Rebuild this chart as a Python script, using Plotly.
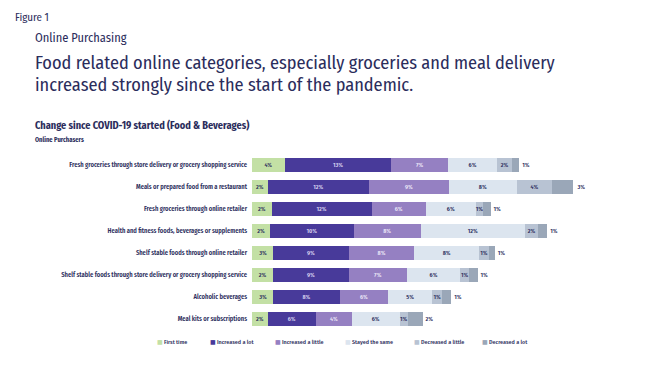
import plotly.graph_objects as go

categories = [
    "Fresh groceries through store delivery or grocery shopping service",
    "Meals or prepared food from a restaurant",
    "Fresh groceries through online retailer",
    "Health and fitness foods, beverages or supplements",
    "Shelf stable foods through online retailer",
    "Shelf stable foods through store delivery or grocery shopping service",
    "Alcoholic beverages",
    "Meal kits or subscriptions",
]
series_names = ["First time", "Increased a lot", "Increased a little",
                "Stayed the same", "Decreased a little", "Decreased a lot"]

first_time = [4.0, 1.9, 2.4, 2.2, 2.6, 2.6, 2.6, 1.9]
increased_lot = [13.0, 12.4, 12.2, 10.2, 9.2, 9.2, 8.1, 5.9]
increased_little = [6.9, 9.7, 6.6, 8.2, 8.0, 7.1, 5.9, 4.4]
stayed_same = [6.0, 8.3, 6.1, 12.7, 7.9, 6.5, 5.4, 5.8]
decreased_little = [1.8, 4.3, 0.9, 1.6, 1.2, 1.1, 1.2, 1.0]
decreased_lot = [0.9, 2.6, 0.9, 1.1, 0.7, 1.0, 1.1, 1.8]

lbl_first_time = [4, 2, 2, 2, 3, 2, 3, 2]
lbl_increased_lot = [13, 12, 12, 10, 9, 9, 8, 6]
lbl_increased_little = [7, 9, 6, 8, 8, 7, 6, 4]
lbl_stayed_same = [6, 8, 6, 12, 8, 6, 5, 6]
lbl_decreased_little = [2, 4, 1, 2, 1, 1, 1, 1]
lbl_decreased_lot = [1, 3, 1, 1, 1, 1, 1, 2]

values = [first_time, increased_lot, increased_little, stayed_same, decreased_little, decreased_lot]
labels = [lbl_first_time, lbl_increased_lot, lbl_increased_little, lbl_stayed_same,
          lbl_decreased_little, lbl_decreased_lot]
colors = ["#c3e0a5", "#483a9a", "#9580c2", "#dce5ef", "#b8c3d3", "#9aa7b8"]
text_colors = ["#2b2d5c", "#d8d4f0", "#ece8f8", "#2b2d5c", "#2b2d5c", "#2b2d5c"]

NAVY = "#2b2d5c"
FONT = "Fira Sans Condensed, Roboto, sans-serif"

# the page has an 8px body margin; work in window pixels and convert
OFF = 8
W, H = 650 - OFF, 366 - OFF
PLOT_L, PLOT_R, PLOT_T, PLOT_B = 252, 621, 154, 330   # window pixels
L, R, T, B = PLOT_L - OFF, W - (PLOT_R - OFF), PLOT_T - OFF, H - (PLOT_B - OFF)

def px(x):
    return (x - PLOT_L) / (PLOT_R - PLOT_L)

def py(y):
    return (PLOT_B - y) / (PLOT_B - PLOT_T)

fig = go.Figure()
for i, name in enumerate(series_names):
    fig.add_trace(go.Bar(
        y=categories, x=values[i], name=name, orientation="h",
        marker=dict(color=colors[i], line=dict(width=0)),
        text=[f"{v}%" for v in labels[i]],
        textposition="outside" if i == 5 else "inside",
        insidetextanchor="middle",
        textfont=dict(color=text_colors[i] if i < 5 else NAVY, size=6, family=FONT, weight=600),
        showlegend=False,
        cliponaxis=False,
    ))

legend_x = [155, 208, 273, 343, 412, 480]
annotations = []
for i, name in enumerate(series_names):
    annotations.append(dict(
        x=px(legend_x[i]), y=py(342), xref="paper", yref="paper",
        xanchor="left", yanchor="middle", showarrow=False,
        text=(f"<span style='color:{colors[i]};font-size:6px;"
              f"font-family:DejaVu Sans'>■</span> {name}"),
        font=dict(size=6, color=NAVY, family=FONT, weight=500),
    ))

texts = [
    ("Figure 1", 13, 17, 11, 400),
    ("Online Purchasing", 33, 38, 12.4, 400),
    ("Food related online categories, especially groceries and meal delivery", 33, 63, 18.3, 400),
    ("increased strongly since the start of the pandemic.", 33, 85, 18.3, 400),
    ("Change since COVID-19 started (Food &amp; Beverages)", 33, 125, 10.3, 700),
    ("Online Purchasers", 33, 140, 6.5, 700),
]
for t, x, y, s, wgt in texts:
    annotations.append(dict(
        x=px(x), y=py(y), xref="paper", yref="paper",
        xanchor="left", yanchor="middle", showarrow=False,
        text=t, font=dict(size=s, color=NAVY, family=FONT, weight=wgt),
    ))

fig.update_layout(
    width=W, height=H,
    margin=dict(l=L, r=R, t=T, b=B),
    barmode="stack", bargap=0.35,
    plot_bgcolor="white", paper_bgcolor="white",
    uniformtext=dict(minsize=6, mode="show"),
    xaxis=dict(range=[0, 45], visible=False, fixedrange=True),
    yaxis=dict(autorange="reversed", showgrid=False, zeroline=False, showline=False,
               ticks="", tickfont=dict(size=6.5, color=NAVY, family=FONT, weight=600),
               ticklabelstandoff=4),
    annotations=annotations,
    font=dict(family=FONT, color=NAVY),
)
fig.write_html("out.html")
